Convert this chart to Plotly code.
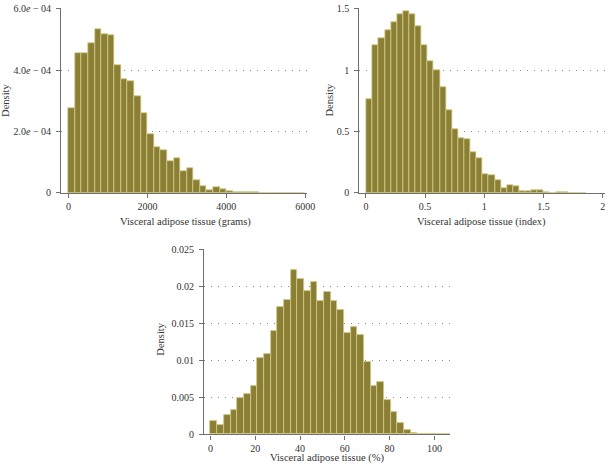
import plotly.graph_objects as go

# ---------------- data (densities per histogram bin) ----------------
grams_bin_start = 0.0
grams_bin_width = 166.67
grams_density = [2.78e-4, 4.55e-4, 4.55e-4, 4.87e-4, 5.33e-4, 5.19e-4, 5.16e-4, 4.16e-4,
                 3.72e-4, 3.66e-4, 3.17e-4, 2.59e-4, 1.90e-4, 1.49e-4, 1.39e-4, 1.04e-4,
                 1.15e-4, 0.70e-4, 0.80e-4, 0.41e-4, 0.22e-4, 0.086e-4, 0.20e-4, 0.12e-4,
                 0.064e-4, 0.04e-4, 0.04e-4, 0.02e-4, 0.01e-4, 0.008e-4, 0.006e-4, 0.006e-4,
                 0.005e-4, 0.005e-4, 0.006e-4, 0.004e-4]

index_bin_start = 0.005
index_bin_width = 0.0516
index_density = [0.762, 1.208, 1.258, 1.327, 1.391, 1.457, 1.484, 1.460, 1.357, 1.205,
                 1.075, 1.004, 0.860, 0.674, 0.518, 0.446, 0.438, 0.332, 0.281, 0.157,
                 0.141, 0.104, 0.037, 0.061, 0.053, 0.013, 0.017, 0.024, 0.020, 0.005,
                 0.0, 0.003, 0.003, 0.0, 0.0, 0.0]

pct_bin_start = 0.0
pct_bin_width = 2.98
pct_density = [0.00186, 0.00128, 0.0027, 0.0033, 0.0049, 0.0055, 0.0066, 0.0104, 0.0109,
               0.0140, 0.0172, 0.0182, 0.0223, 0.0210, 0.0194, 0.0206, 0.0181, 0.0193,
               0.0181, 0.0168, 0.0137, 0.0146, 0.0134, 0.0098, 0.0066, 0.0071, 0.0047,
               0.0030, 0.0016, 0.0006, 0.0002, 0.0001, 0.00005, 0.00005, 0.00005, 0.00003]

grams_xticks = [0, 2000, 4000, 6000]
grams_yticks = [0, 2e-4, 4e-4, 6e-4]
grams_yticklabels = ["0", "2.0<i>e</i> − 04", "4.0<i>e</i> − 04", "6.0<i>e</i> − 04"]
index_xticks = [0, 0.5, 1, 1.5, 2]
index_xticklabels = ["0", "0.5", "1", "1.5", "2"]
index_yticks = [0, 0.5, 1, 1.5]
index_yticklabels = ["0", "0.5", "1", "1.5"]
pct_xticks = [0, 20, 40, 60, 80, 100]
pct_yticks = [0, 0.005, 0.01, 0.015, 0.02, 0.025]
pct_yticklabels = ["0", "0.005", "0.01", "0.015", "0.02", "0.025"]

xtitles = ["Visceral adipose tissue (grams)", "Visceral adipose tissue (index)",
           "Visceral adipose tissue (%)"]

# ---------------- styling ----------------
W, H = 615, 474
FONT = "Liberation Serif"
TXT = "#333333"
BAR = "#8b7f35"
EDGE = "#d2ca85"
AXC = "#707070"
GRID = "#8a8a8a"

fig = go.Figure()

def centers(start, width, n):
    return [start + width * (i + 0.5) for i in range(n)]

panels = [
    dict(start=grams_bin_start, width=grams_bin_width, dens=grams_density,
         xd=(62, 311), yd=(192, 4), xr=(-182, 6040), yr=(0, 6e-4),
         xt=grams_xticks, xtl=[str(v) for v in grams_xticks],
         yt=grams_yticks, ytl=grams_yticklabels),
    dict(start=index_bin_start, width=index_bin_width, dens=index_density,
         xd=(364, 613), yd=(192, 4), xr=(-0.056, 2.02), yr=(0, 1.5),
         xt=index_xticks, xtl=index_xticklabels,
         yt=index_yticks, ytl=index_yticklabels),
    dict(start=pct_bin_start, width=pct_bin_width, dens=pct_density,
         xd=(206.7, 456), yd=(438.7, 250), xr=(-2.9, 107.0), yr=(0, 0.025),
         xt=pct_xticks, xtl=[str(v) for v in pct_xticks],
         yt=pct_yticks, ytl=pct_yticklabels),
]

layout = dict(width=W, height=H, margin=dict(l=0, r=0, t=0, b=0),
              paper_bgcolor="white", plot_bgcolor="white", showlegend=False,
              bargap=0, font=dict(family=FONT, size=10, color=TXT))

for i, p in enumerate(panels, start=1):
    n = len(p["dens"])
    xa = "x" if i == 1 else f"x{i}"
    ya = "y" if i == 1 else f"y{i}"
    fig.add_trace(go.Bar(
        x=centers(p["start"], p["width"], n), y=p["dens"], width=[p["width"]] * n,
        marker=dict(color=BAR, line=dict(color=EDGE, width=0.8)),
        xaxis=xa, yaxis=ya, hoverinfo="skip"))
    y0, y1 = p["yr"]
    pad = (y1 - y0) * 0.004
    ytop_px = p["yd"][1] - (p["yd"][0] - p["yd"][1]) * 0.004
    layout["xaxis" if i == 1 else f"xaxis{i}"] = dict(
        domain=[p["xd"][0] / W, p["xd"][1] / W], range=list(p["xr"]),
        anchor=ya, showgrid=False, zeroline=False,
        showline=True, linecolor=AXC, linewidth=1.2,
        ticks="outside", ticklen=4, tickcolor=AXC, tickwidth=1,
        tickvals=p["xt"], ticktext=p["xtl"], ticklabelstandoff=0,
        tickfont=dict(family=FONT, size=10, color=TXT))
    layout["yaxis" if i == 1 else f"yaxis{i}"] = dict(
        domain=[1 - p["yd"][0] / H, 1 - ytop_px / H], range=[y0, y1 + pad],
        anchor=xa, showgrid=True, gridcolor=GRID, griddash="1px,6px", gridwidth=1,
        zeroline=False, showline=True, linecolor=AXC, linewidth=1.2,
        ticks="outside", ticklen=4, tickcolor=AXC, tickwidth=1,
        tickvals=p["yt"], ticktext=p["ytl"], ticklabelstandoff=3,
        tickfont=dict(family=FONT, size=10, color=TXT))

fig.update_layout(**layout)

# axis titles
ann = []
xtitle_pos = [(188, 222), (488, 222), (331, 463)]
ytitle_pos = [(6, 97), (334, 97), (163, 341)]
for (x, y), t in zip(xtitle_pos, xtitles):
    ann.append(dict(x=x / W, y=1 - y / H, xref="paper", yref="paper", text=t,
                    showarrow=False, xanchor="center", yanchor="middle",
                    font=dict(family=FONT, size=10.5, color=TXT)))
for (x, y) in ytitle_pos:
    ann.append(dict(x=x / W, y=1 - y / H, xref="paper", yref="paper", text="Density",
                    showarrow=False, xanchor="center", yanchor="middle", textangle=-90,
                    font=dict(family=FONT, size=10.5, color=TXT)))
fig.update_layout(annotations=ann)

fig.write_html("out.html", config={"responsive": False, "displayModeBar": False},
               post_script="document.body.style.margin='0';document.body.style.overflow='hidden';")
